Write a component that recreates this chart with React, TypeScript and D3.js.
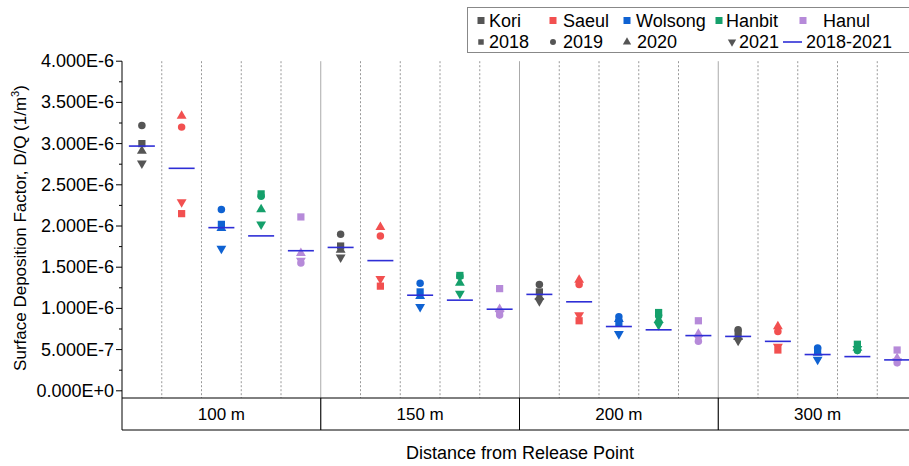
import React, { useRef, useEffect } from 'react';
import * as d3 from 'd3';

// values in units of 1E-6 (1/m^3)
const distances = ['100 m', '150 m', '200 m', '300 m'];
const plants = ['Kori', 'Saeul', 'Wolsong', 'Hanbit', 'Hanul'];
const plantColors = ['#555555', '#f25050', '#0f62d2', '#15a06b', '#b68ad9'];

// rows: distance, columns: plant
const y2018 = [
  [3.0, 2.15, 2.02, 2.39, 2.11],
  [1.757, 1.27, 1.2, 1.4, 1.24],
  [1.2, 0.85, 0.83, 0.95, 0.85],
  [0.7, 0.495, 0.49, 0.565, 0.495],
];
const y2019 = [
  [3.22, 3.2, 2.2, 2.36, 1.55],
  [1.9, 1.88, 1.305, 1.39, 0.92],
  [1.29, 1.29, 0.9, 0.91, 0.6],
  [0.74, 0.72, 0.52, 0.49, 0.34],
];
const y2020 = [
  [2.91, 3.335, 1.975, 2.2, 1.67],
  [1.71, 1.985, 1.15, 1.31, 0.99],
  [1.14, 1.345, 0.87, 0.86, 0.69],
  [0.65, 0.78, 0.46, 0.52, 0.395],
];
const y2021 = [
  [2.76, 2.29, 1.725, 2.02, 1.58],
  [1.62, 1.36, 1.02, 1.18, 0.94],
  [1.09, 0.92, 0.69, 0.8, 0.64],
  [0.61, 0.535, 0.38, 0.51, 0.36],
];
const mean1821 = [
  [2.97, 2.7, 1.98, 1.88, 1.7],
  [1.74, 1.58, 1.16, 1.1, 0.99],
  [1.17, 1.08, 0.78, 0.74, 0.67],
  [0.66, 0.6, 0.44, 0.415, 0.375],
];

const yearLabels = ['2018', '2019', '2020', '2021'];
const yearSymbols = [d3.symbolSquare, d3.symbolCircle, d3.symbolTriangle, d3.symbolTriangle];
const yearSeries = [y2018, y2019, y2020, y2021];
const yTicks = d3.range(0, 4.01, 0.5);

const FONT = 'Arial, "Liberation Sans", sans-serif';

const App = () => {
  const svgRef = useRef<SVGSVGElement>(null);

  useEffect(() => {
    const width = 909;
    const height = 466;
    const left = 122, right = 917, top = 61.2, bottom = 390.8;
    const boxTop = 398, boxBottom = 430;

    const svg = d3.select(svgRef.current)
      .attr('width', width)
      .attr('height', height);
    svg.selectAll('*').remove();

    const x0 = d3.scaleBand().domain(distances).range([left, right]);
    const x1 = d3.scaleBand().domain(plants).range([0, x0.bandwidth()]);
    const y = d3.scaleLinear().domain([0, 4]).range([bottom, top]);

    // grid: dotted plant separators, solid group separators
    distances.forEach(d => {
      plants.forEach((p, i) => {
        if (i === 0) return;
        const xx = x0(d)! + x1(p)!;
        svg.append('line')
          .attr('x1', xx).attr('x2', xx).attr('y1', top).attr('y2', boxTop)
          .attr('stroke', '#999').attr('stroke-dasharray', '2,2');
      });
      if (d !== distances[0]) {
        svg.append('line')
          .attr('x1', x0(d)!).attr('x2', x0(d)!).attr('y1', top).attr('y2', boxBottom)
          .attr('stroke', '#aaa');
      }
    });

    // category box
    svg.append('line').attr('x1', left).attr('x2', width).attr('y1', boxTop).attr('y2', boxTop).attr('stroke', '#000');
    svg.append('line').attr('x1', left).attr('x2', width).attr('y1', boxBottom).attr('y2', boxBottom).attr('stroke', '#000');
    distances.forEach(d => {
      if (d !== distances[0]) {
        svg.append('line').attr('x1', x0(d)!).attr('x2', x0(d)!).attr('y1', boxTop).attr('y2', boxBottom).attr('stroke', '#000');
      }
      svg.append('text')
        .attr('x', x0(d)! + x0.bandwidth() / 2)
        .attr('y', (boxTop + boxBottom) / 2 + 6)
        .attr('text-anchor', 'middle')
        .attr('font-family', FONT).attr('font-size', 17)
        .text(d);
    });

    // y axis
    svg.append('line').attr('x1', left).attr('x2', left).attr('y1', top).attr('y2', boxBottom).attr('stroke', '#000');
    d3.range(0, 4.01, 0.25).forEach(t => {
      const major = Math.abs(t * 2 - Math.round(t * 2)) < 1e-6;
      svg.append('line')
        .attr('x1', left - (major ? 6 : 3)).attr('x2', left)
        .attr('y1', y(t)).attr('y2', y(t)).attr('stroke', '#000');
    });
    yTicks.forEach(t => {
      svg.append('text')
        .attr('x', left - 8).attr('y', y(t) + 6)
        .attr('text-anchor', 'end')
        .attr('font-family', FONT).attr('font-size', 18)
        .text((t * 1e-6).toExponential(3).toUpperCase());
    });

    // axis titles
    const yt = svg.append('text')
      .attr('transform', `translate(26,${(top + bottom) / 2 + 2}) rotate(-90)`)
      .attr('text-anchor', 'middle')
      .attr('font-family', FONT).attr('font-size', 17);
    yt.append('tspan').text('Surface Deposition Factor, D/Q (1/m');
    yt.append('tspan').attr('dy', -7).attr('font-size', 11).text('3');
    yt.append('tspan').attr('dy', 7).text(')');

    svg.append('text')
      .attr('x', 520).attr('y', 459)
      .attr('text-anchor', 'middle')
      .attr('font-family', FONT).attr('font-size', 18)
      .text('Distance from Release Point');

    // points
    const pts = svg.append('g');
    [3, 2, 1, 0].forEach(yi => {
      distances.forEach((d, di) => {
        plants.forEach((p, pi) => {
          const cx = x0(d)! + x1(p)! + x1.bandwidth() / 2;
          const sym = d3.symbol().type(yearSymbols[yi]).size(yi === 1 ? 44 : yi === 0 ? 52 : 42);
          pts.append('path')
            .attr('d', sym()!)
            .attr('transform', `translate(${cx},${y(yearSeries[yi][di][pi])})${yi === 3 ? ' rotate(180)' : ''}`)
            .attr('fill', plantColors[pi]);
        });
      });
    });

    // 2018-2021 mean lines
    distances.forEach((d, di) => {
      plants.forEach((p, pi) => {
        const cx = x0(d)! + x1(p)! + x1.bandwidth() / 2;
        svg.append('line')
          .attr('x1', cx - 13).attr('x2', cx + 13)
          .attr('y1', y(mean1821[di][pi])).attr('y2', y(mean1821[di][pi]))
          .attr('stroke', '#2e2ed6').attr('stroke-width', 1.6);
      });
    });

    // legend
    const lg = svg.append('g');
    lg.append('rect').attr('x', 467.5).attr('y', 7.5).attr('width', 460).attr('height', 45)
      .attr('fill', '#fff').attr('stroke', '#888');
    const row1X = [481, 553, 627, 719, 803];
    const text1X = [489, 563, 636, 726, 823];
    plants.forEach((p, i) => {
      lg.append('rect').attr('x', row1X[i] - 3.5).attr('y', 17).attr('width', 7).attr('height', 7).attr('fill', plantColors[i]);
      lg.append('text').attr('x', text1X[i]).attr('y', 27)
        .attr('font-family', FONT).attr('font-size', 18).text(p);
    });
    const row2X = [481, 553, 627, 732];
    const text2X = [489, 563, 637, 739];
    yearLabels.forEach((yl, i) => {
      const sym = d3.symbol().type(yearSymbols[i]).size(i === 1 ? 28 : 30);
      lg.append('path').attr('d', sym()!)
        .attr('transform', `translate(${row2X[i]},${42})${i === 3 ? ' rotate(180)' : ''}`)
        .attr('fill', '#555');
      lg.append('text').attr('x', text2X[i]).attr('y', 48)
        .attr('font-family', FONT).attr('font-size', 18).text(yl);
    });
    lg.append('line').attr('x1', 783).attr('x2', 802).attr('y1', 42).attr('y2', 42)
      .attr('stroke', '#2e2ed6').attr('stroke-width', 1.6);
    lg.append('text').attr('x', 806).attr('y', 48)
      .attr('font-family', FONT).attr('font-size', 18).text('2018-2021');
  }, []);

  return (
    <svg ref={svgRef} style={{ position: 'absolute', left: 0, top: 0 }}></svg>
  );
};

export default App;
